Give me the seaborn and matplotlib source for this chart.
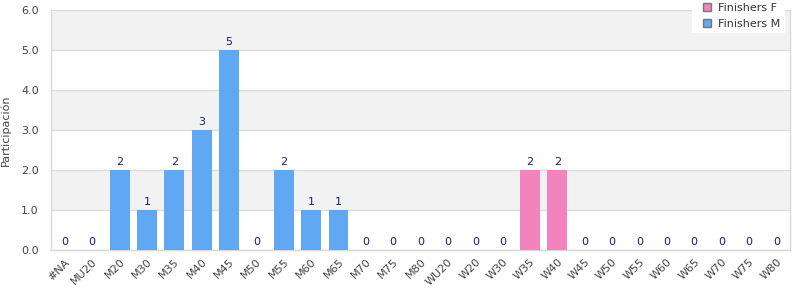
import matplotlib
matplotlib.use("Agg")
import matplotlib.pyplot as plt
import seaborn as sns
import pandas as pd
from matplotlib.patches import Patch, Rectangle

categories = ["#NA", "MU20", "M20", "M30", "M35", "M40", "M45", "M50", "M55", "M60",
              "M65", "M70", "M75", "M80", "WU20", "W20", "W30", "W35", "W40", "W45",
              "W50", "W55", "W60", "W65", "W70", "W75", "W80"]
finishers_m = [0, 0, 2, 1, 2, 3, 5, 0, 2, 1, 1, 0, 0, 0, 0, 0, 0, 0, 0, 0, 0, 0, 0, 0, 0, 0, 0]
finishers_f = [0, 0, 0, 0, 0, 0, 0, 0, 0, 0, 0, 0, 0, 0, 0, 0, 0, 2, 2, 0, 0, 0, 0, 0, 0, 0, 0]
yticks = [0, 1, 2, 3, 4, 5, 6]

sns.set_style("white")
plt.rcParams['font.family'] = ['DejaVu Sans']

col_f = "#f283bb"
col_m = "#60a8f2"
fs = 8

df = pd.DataFrame({
    "cat": categories * 2,
    "val": finishers_f + finishers_m,
    "serie": ["Finishers F"] * len(categories) + ["Finishers M"] * len(categories),
})

fig = plt.figure(figsize=(8, 3), dpi=100)
ax = fig.add_axes([0.064, 0.1667, 0.9235, 0.8])

# alternating bands
for lo in range(0, 6):
    if lo % 2 == 1:
        ax.axhspan(lo, lo + 1, color="#f2f2f2", zorder=0, lw=0)

sns.barplot(data=df, x="cat", y="val", hue="serie", order=categories,
            hue_order=["Finishers F", "Finishers M"],
            palette={"Finishers F": col_f, "Finishers M": col_m},
            dodge=False, width=0.73, saturation=1, ax=ax, legend=False,
            linewidth=0, edgecolor="none", zorder=3)

totals = [a + b for a, b in zip(finishers_m, finishers_f)]
for i, t in enumerate(totals):
    ax.text(i, t + 0.07, f"{t}", ha="center", va="bottom", fontsize=fs,
            color="#1a1a8c", zorder=4)

ax.set_ylim(0, 6)
ax.set_xlim(-0.5, len(categories) - 0.5)
ax.set_yticks(yticks)
ax.set_yticklabels([f"{v:.1f}" for v in yticks], fontsize=fs, color="#444444")
ax.set_xticks(range(len(categories)))
ax.set_xticklabels(categories, rotation=45, ha="right", rotation_mode="anchor",
                   fontsize=fs, color="#444444")
ax.tick_params(axis="y", length=0, pad=9)
ax.tick_params(axis="x", length=0, pad=5)
ax.set_xlabel("")
ax.set_ylabel("Participación", fontsize=fs, color="#444444")
ax.yaxis.set_label_coords(-0.055, 0.5)
ax.yaxis.grid(True, color="#dddddd", lw=1, zorder=1)
ax.set_axisbelow(True)
for s in ["left", "bottom", "right"]:
    ax.spines[s].set_color("#d9d9d9")
    ax.spines[s].set_linewidth(1)
ax.spines["top"].set_visible(False)

# white legend background box
fig.patches.append(Rectangle((692 / 800, 1 - 33 / 300), 93 / 800, 33 / 300,
                             transform=fig.transFigure, facecolor="white",
                             edgecolor="none", zorder=5))

handles = [Patch(facecolor=col_f, edgecolor="#777777", label="Finishers F"),
           Patch(facecolor=col_m, edgecolor="#777777", label="Finishers M")]
leg = fig.legend(handles=handles, loc="upper left", bbox_to_anchor=(703 / 800, 0.99),
                 frameon=False, fontsize=fs, handlelength=0.75, handleheight=0.75,
                 borderpad=0, labelspacing=0.55, handletextpad=0.6,
                 borderaxespad=0)
leg.set_zorder(6)
for t in leg.get_texts():
    t.set_color("#333333")

fig.savefig("out.png", dpi=100)
